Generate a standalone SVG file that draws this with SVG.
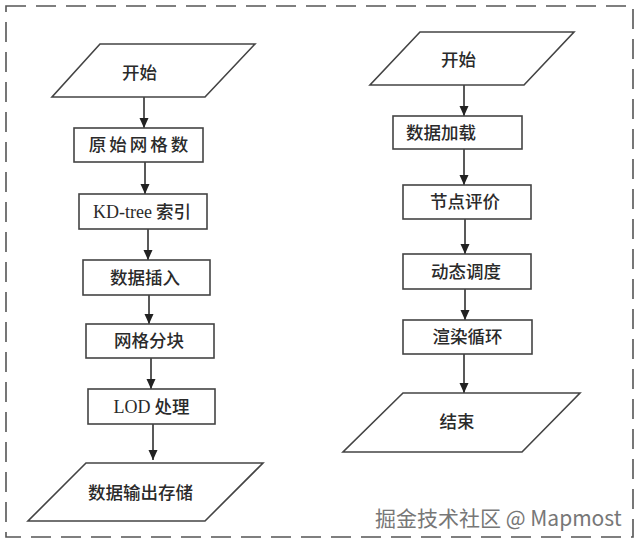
<svg xmlns="http://www.w3.org/2000/svg" width="640" height="547" viewBox="0 0 640 547">
<defs>
<marker id="arr" markerUnits="userSpaceOnUse" markerWidth="10" markerHeight="10" refX="10" refY="4.5" orient="auto">
<path d="M0,0 L10,4.5 L0,9 z" fill="#222"/>
</marker>
<style>
.shape{fill:#fff;stroke:#444;stroke-width:1.6}
.t{font-family:"Noto Sans CJK SC","Noto Sans",sans-serif;font-size:17.5px;font-weight:500;fill:#2a2a2a;text-anchor:middle}
.lat{font-family:"Liberation Serif","Noto Sans CJK SC",serif;font-weight:400}
.edge{stroke:#222;stroke-width:1.5;fill:none;marker-end:url(#arr)}
.frame{fill:none;stroke:#555;stroke-width:1.6;stroke-dasharray:20 10}
.wm{font-family:"Noto Sans CJK SC","Noto Sans",sans-serif;font-size:21px;fill:#777;stroke:#fff;stroke-width:0.6;paint-order:stroke}
</style>
</defs>
<rect width="640" height="547" fill="#fff"/>
<rect class="frame" x="6" y="6" width="627" height="531"/>
<g id="connectors">
<line class="edge" x1="144" y1="97" x2="144" y2="128"/>
<line class="edge" x1="145" y1="162" x2="145" y2="194"/>
<line class="edge" x1="148" y1="229" x2="148" y2="260"/>
<line class="edge" x1="149" y1="295" x2="149" y2="324"/>
<line class="edge" x1="151" y1="358" x2="151" y2="389"/>
<line class="edge" x1="153" y1="424" x2="153" y2="460"/>
<line class="edge" x1="464" y1="85" x2="464" y2="116"/>
<line class="edge" x1="464" y1="149" x2="464" y2="185"/>
<line class="edge" x1="465" y1="219" x2="465" y2="254"/>
<line class="edge" x1="465" y1="289" x2="465" y2="320"/>
<line class="edge" x1="464" y1="354" x2="464" y2="393"/>
</g>
<g id="l-start">
<polygon class="shape" points="100,44 255,44 205,97 52,97"/>
<text class="t" x="139.5" y="79">开始</text>
</g>
<g id="l-raw">
<rect class="shape" x="74" y="128" width="129" height="34"/>
<text class="t" x="140" y="151" letter-spacing="3">原始网格数</text>
</g>
<g id="l-kd">
<rect class="shape" x="79" y="194" width="128" height="35"/>
<text class="t" x="142" y="217.5"><tspan class="lat" font-size="18">KD-tree</tspan> 索引</text>
</g>
<g id="l-insert">
<rect class="shape" x="83" y="260" width="127" height="35"/>
<text class="t" x="145" y="283.5">数据插入</text>
</g>
<g id="l-block">
<rect class="shape" x="86" y="324" width="128" height="34"/>
<text class="t" x="149" y="347">网格分块</text>
</g>
<g id="l-lod">
<rect class="shape" x="88" y="389" width="127" height="35"/>
<text class="t" x="151.5" y="412.5"><tspan class="lat" font-size="18">LOD</tspan> 处理</text>
</g>
<g id="l-out">
<polygon class="shape" points="86,463 263,463 205,521 28,521"/>
<text class="t" x="140.5" y="499">数据输出存储</text>
</g>
<g id="r-start">
<polygon class="shape" points="420,32 574,32 524,85 370,85"/>
<text class="t" x="458.5" y="66">开始</text>
</g>
<g id="r-load">
<rect class="shape" x="393" y="116" width="129" height="33"/>
<text class="t" x="441" y="138.5">数据加载</text>
</g>
<g id="r-eval">
<rect class="shape" x="403" y="185" width="128" height="34"/>
<text class="t" x="465" y="208">节点评价</text>
</g>
<g id="r-sched">
<rect class="shape" x="403" y="254" width="128" height="35"/>
<text class="t" x="466" y="277.5">动态调度</text>
</g>
<g id="r-render">
<rect class="shape" x="403" y="320" width="129" height="34"/>
<text class="t" x="467.5" y="343">渲染循环</text>
</g>
<g id="r-end">
<polygon class="shape" points="403,393 580,393 522,452 343,452"/>
<text class="t" x="457" y="428">结束</text>
</g>
<text class="wm" x="375" y="526">掘金技术社区 @ Mapmost</text>
</svg>
